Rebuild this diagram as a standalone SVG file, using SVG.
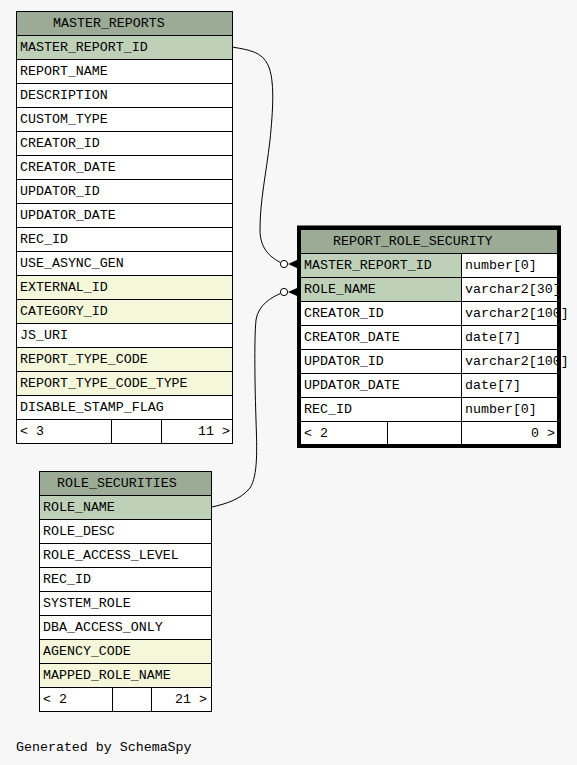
<svg xmlns="http://www.w3.org/2000/svg" width="577" height="765" viewBox="0 0 577 765">
<style>
text{font-family:"Liberation Mono","DejaVu Sans Mono",monospace;font-size:13.3px;fill:#000}
.hd{fill:#9bab96;stroke:#000;stroke-width:1}
.pk{fill:#bed1b8;stroke:#000;stroke-width:1}
.ix{fill:#f4f7da;stroke:#000;stroke-width:1}
.pl{fill:#ffffff;stroke:#000;stroke-width:1}
.ln{stroke:#000;stroke-width:1;fill:none}
.end{text-anchor:end}
</style>
<rect width="577" height="765" fill="#f7f7f7"/>
<g id="connectors">
<path class="ln" d="M232,47 C250,50 262,52 268,65 C275,80 273,110 270,140 C266,175 260,200 260,230 C260,250 272,258 280.5,262.5"/>
<circle cx="284" cy="264" r="3.6" fill="#fff" stroke="#000" stroke-width="1"/>
<path d="M288,264 L297,260 L297,268 Z" fill="#000"/>
<path class="ln" d="M212,507 C225,504 240,500 250,488 C258,475 257,450 256,420 C255,390 254,340 256,320 C258,305 272,297 280.5,293.5"/>
<circle cx="284" cy="292" r="3.6" fill="#fff" stroke="#000" stroke-width="1"/>
<path d="M288,292 L297,288 L297,296 Z" fill="#000"/>
</g>
<g id="MASTER_REPORTS">
<rect class="hd" x="16.5" y="11.5" width="216" height="24"/>
<text x="53" y="27">MASTER_REPORTS</text>
<rect class="pk" x="16.5" y="35.5" width="216" height="24"/><text x="20" y="51">MASTER_REPORT_ID</text>
<rect class="pl" x="16.5" y="59.5" width="216" height="24"/><text x="20" y="75">REPORT_NAME</text>
<rect class="pl" x="16.5" y="83.5" width="216" height="24"/><text x="20" y="99">DESCRIPTION</text>
<rect class="pl" x="16.5" y="107.5" width="216" height="24"/><text x="20" y="123">CUSTOM_TYPE</text>
<rect class="pl" x="16.5" y="131.5" width="216" height="24"/><text x="20" y="147">CREATOR_ID</text>
<rect class="pl" x="16.5" y="155.5" width="216" height="24"/><text x="20" y="171">CREATOR_DATE</text>
<rect class="pl" x="16.5" y="179.5" width="216" height="24"/><text x="20" y="195">UPDATOR_ID</text>
<rect class="pl" x="16.5" y="203.5" width="216" height="24"/><text x="20" y="219">UPDATOR_DATE</text>
<rect class="pl" x="16.5" y="227.5" width="216" height="24"/><text x="20" y="243">REC_ID</text>
<rect class="pl" x="16.5" y="251.5" width="216" height="24"/><text x="20" y="267">USE_ASYNC_GEN</text>
<rect class="ix" x="16.5" y="275.5" width="216" height="24"/><text x="20" y="291">EXTERNAL_ID</text>
<rect class="ix" x="16.5" y="299.5" width="216" height="24"/><text x="20" y="315">CATEGORY_ID</text>
<rect class="pl" x="16.5" y="323.5" width="216" height="24"/><text x="20" y="339">JS_URI</text>
<rect class="ix" x="16.5" y="347.5" width="216" height="24"/><text x="20" y="363">REPORT_TYPE_CODE</text>
<rect class="ix" x="16.5" y="371.5" width="216" height="24"/><text x="20" y="387">REPORT_TYPE_CODE_TYPE</text>
<rect class="pl" x="16.5" y="395.5" width="216" height="24"/><text x="20" y="411">DISABLE_STAMP_FLAG</text>
<rect class="pl" x="16.5" y="419.5" width="216" height="24"/>
<path class="ln" d="M111.5,419.5 V443.5 M161.5,419.5 V443.5"/>
<text x="20" y="435">&lt; 3</text><text class="end" x="230" y="435">11 &gt;</text>
</g>
<g id="REPORT_ROLE_SECURITY">
<rect class="hd" x="300.5" y="229.5" width="257" height="24"/>
<text x="333" y="245">REPORT_ROLE_SECURITY</text>
<rect class="pk" x="300.5" y="253.5" width="161" height="24"/><rect class="pl" x="461.5" y="253.5" width="96" height="24"/>
<text x="304" y="269">MASTER_REPORT_ID</text><text x="465" y="269">number[0]</text>
<rect class="pk" x="300.5" y="277.5" width="161" height="24"/><rect class="pl" x="461.5" y="277.5" width="96" height="24"/>
<text x="304" y="293">ROLE_NAME</text><text x="465" y="293">varchar2[30]</text>
<rect class="pl" x="300.5" y="301.5" width="161" height="24"/><rect class="pl" x="461.5" y="301.5" width="96" height="24"/>
<text x="304" y="317">CREATOR_ID</text><text x="465" y="317">varchar2[100]</text>
<rect class="pl" x="300.5" y="325.5" width="161" height="24"/><rect class="pl" x="461.5" y="325.5" width="96" height="24"/>
<text x="304" y="341">CREATOR_DATE</text><text x="465" y="341">date[7]</text>
<rect class="pl" x="300.5" y="349.5" width="161" height="24"/><rect class="pl" x="461.5" y="349.5" width="96" height="24"/>
<text x="304" y="365">UPDATOR_ID</text><text x="465" y="365">varchar2[100]</text>
<rect class="pl" x="300.5" y="373.5" width="161" height="24"/><rect class="pl" x="461.5" y="373.5" width="96" height="24"/>
<text x="304" y="389">UPDATOR_DATE</text><text x="465" y="389">date[7]</text>
<rect class="pl" x="300.5" y="397.5" width="161" height="24"/><rect class="pl" x="461.5" y="397.5" width="96" height="24"/>
<text x="304" y="413">REC_ID</text><text x="465" y="413">number[0]</text>
<rect class="pl" x="300.5" y="421.5" width="257" height="24"/>
<path class="ln" d="M387.5,421.5 V445.5 M461.5,421.5 V445.5"/>
<text x="304" y="437">&lt; 2</text><text class="end" x="555" y="437">0 &gt;</text>
<rect x="299" y="227.5" width="260" height="218.5" fill="none" stroke="#000" stroke-width="4"/>
</g>
<g id="ROLE_SECURITIES">
<rect class="hd" x="39.5" y="471.5" width="172" height="24"/>
<text x="57" y="487">ROLE_SECURITIES</text>
<rect class="pk" x="39.5" y="495.5" width="172" height="24"/><text x="43" y="511">ROLE_NAME</text>
<rect class="pl" x="39.5" y="519.5" width="172" height="24"/><text x="43" y="535">ROLE_DESC</text>
<rect class="pl" x="39.5" y="543.5" width="172" height="24"/><text x="43" y="559">ROLE_ACCESS_LEVEL</text>
<rect class="pl" x="39.5" y="567.5" width="172" height="24"/><text x="43" y="583">REC_ID</text>
<rect class="pl" x="39.5" y="591.5" width="172" height="24"/><text x="43" y="607">SYSTEM_ROLE</text>
<rect class="pl" x="39.5" y="615.5" width="172" height="24"/><text x="43" y="631">DBA_ACCESS_ONLY</text>
<rect class="ix" x="39.5" y="639.5" width="172" height="24"/><text x="43" y="655">AGENCY_CODE</text>
<rect class="ix" x="39.5" y="663.5" width="172" height="24"/><text x="43" y="679">MAPPED_ROLE_NAME</text>
<rect class="pl" x="39.5" y="687.5" width="172" height="24"/>
<path class="ln" d="M112.5,687.5 V711.5 M151.5,687.5 V711.5"/>
<text x="43" y="703">&lt; 2</text><text class="end" x="207" y="703">21 &gt;</text>
</g>
<text x="16" y="751">Generated by SchemaSpy</text>
</svg>
